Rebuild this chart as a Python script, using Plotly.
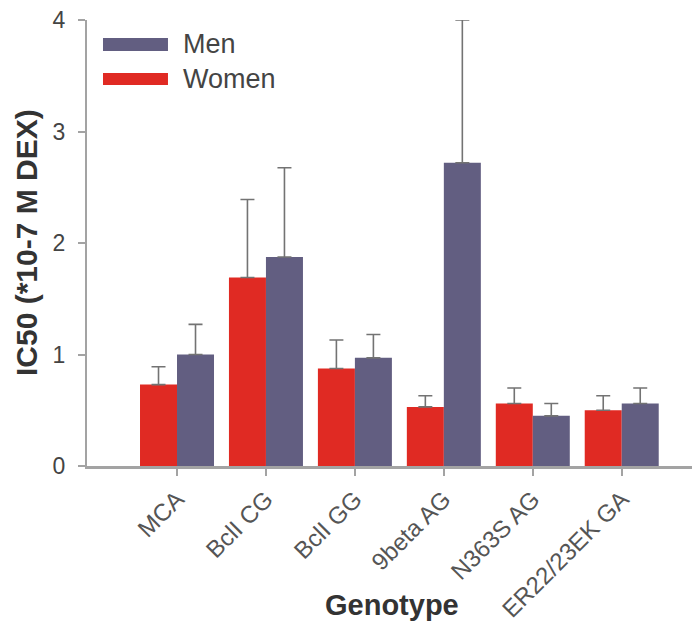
import plotly.graph_objects as go

genotypes = ["MCA", "BclI CG", "BclI GG", "9beta AG", "N363S AG", "ER22/23EK GA"]
women = [0.73, 1.69, 0.875, 0.53, 0.56, 0.50]
women_err = [0.16, 0.70, 0.255, 0.10, 0.14, 0.13]
men = [1.00, 1.875, 0.97, 2.72, 0.45, 0.56]
men_err = [0.27, 0.80, 0.21, 1.28, 0.11, 0.14]
series_names = ["Men", "Women"]
y_ticks = [0, 1, 2, 3, 4]

RED = "#E02A23"
PURPLE = "#625E81"
AXIS_GRAY = "#a3a3a3"
ERR_GRAY = "#737373"
FONT = "Arial, Liberation Sans, sans-serif"

x_idx = list(range(len(genotypes)))

fig = go.Figure()
fig.add_trace(go.Bar(
    x=x_idx, y=women, name="Women", marker=dict(color=RED, line=dict(width=0)),
    error_y=dict(type="data", array=women_err, arrayminus=[0]*len(women), symmetric=False,
                 color=ERR_GRAY, thickness=1.6, width=7),
    showlegend=False,
))
fig.add_trace(go.Bar(
    x=x_idx, y=men, name="Men", marker=dict(color=PURPLE, line=dict(width=0)),
    error_y=dict(type="data", array=men_err, arrayminus=[0]*len(men), symmetric=False,
                 color=ERR_GRAY, thickness=1.6, width=7),
    showlegend=False,
))

# Legend drawn as wide swatches (paper coordinates)
legend_colors = [PURPLE, RED]
legend_rows = [(0.9597, 0.9306, 0.9451), (0.8813, 0.8544, 0.8679)]
for nm, col, (top, bot, mid) in zip(series_names, legend_colors, legend_rows):
    fig.add_shape(type="rect", xref="paper", yref="paper",
                  x0=0.0261, x1=0.1321, y0=bot, y1=top, fillcolor=col, line=dict(width=0))
    fig.add_annotation(xref="paper", yref="paper", x=0.153, y=mid, text=nm,
                       showarrow=False, xanchor="left", yanchor="middle",
                       font=dict(family=FONT, size=27, color="#444444"))

# Axis titles
fig.add_annotation(xref="paper", yref="paper", x=0.498, y=-0.312, text="<b>Genotype</b>",
                   showarrow=False, xanchor="center", yanchor="middle",
                   font=dict(family=FONT, size=29, color="#333333"))
fig.add_annotation(xref="paper", yref="paper", x=-0.0995, y=0.50, text="<b>IC50 (*10-7 M DEX)</b>",
                   showarrow=False, xanchor="center", yanchor="middle", textangle=-90,
                   font=dict(family=FONT, size=30, color="#333333"))

# page body has an 8px margin, so the figure is 8px smaller and offsets shrink by 8
fig.update_layout(
    width=692, height=616,
    margin=dict(l=79, r=0, t=12, b=157.5, autoexpand=False),
    plot_bgcolor="white", paper_bgcolor="white",
    barmode="group", bargap=0.168, bargroupgap=0,
    font=dict(family=FONT, color="#444444"),
    xaxis=dict(
        range=[-1.012, 5.88], tickmode="array", tickvals=x_idx, ticktext=genotypes,
        tickangle=-45, tickfont=dict(size=24, color="#555555"),
        showline=True, linecolor=AXIS_GRAY, linewidth=2.5, ticks="outside", ticklen=7,
        tickcolor=AXIS_GRAY, tickwidth=1.5, showgrid=False, zeroline=False, automargin=False,
    ),
    yaxis=dict(
        range=[0, 4.0], tickvals=y_ticks, tickfont=dict(size=23, color="#444444"),
        showline=True, linecolor=AXIS_GRAY, linewidth=2, ticks="outside", ticklen=7,
        tickcolor=AXIS_GRAY, tickwidth=1.5, showgrid=False, zeroline=False, automargin=False,
        ticklabelstandoff=8, ticklabeloverflow="allow",
    ),
)

fig.write_html("out.html")
